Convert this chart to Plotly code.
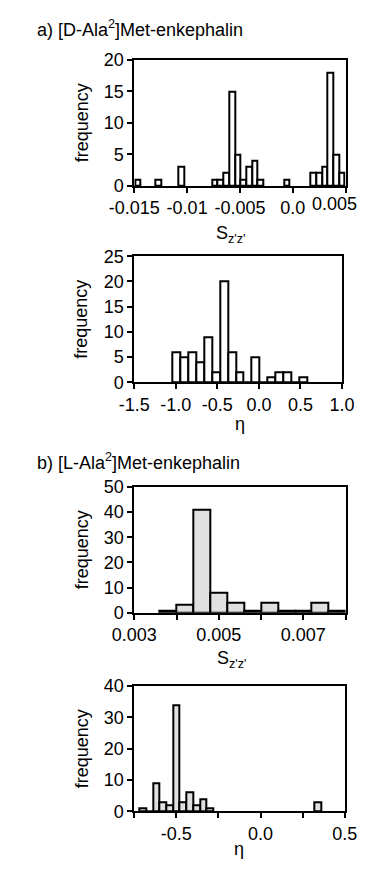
import plotly.graph_objects as go

W, H = 372, 873
FONT = "Liberation Sans, Arial, Helvetica, sans-serif"
FS = 18

# ---- data ----
# a) [D-Ala2]Met-enkephalin, S_z'z'
dala_s_centers = [-0.01466, -0.01276, -0.01057, -0.00737, -0.00683, -0.00629, -0.00575,
                  -0.00521, -0.00467, -0.00413, -0.00359, -0.00305, -0.00057, 0.00195,
                  0.00249, 0.00303, 0.00357, 0.00411, 0.00465]
dala_s_counts = [1, 1, 3, 1, 1, 2, 15, 5, 1, 3, 4, 1, 1, 2, 2, 3, 18, 5, 2]
dala_s_width = 0.00054

# a) eta
dala_eta_centers = [-0.993, -0.898, -0.802, -0.707, -0.611, -0.516, -0.420, -0.325, -0.230,
                    -0.134, -0.039, 0.057, 0.152, 0.248, 0.343, 0.439, 0.534]
dala_eta_counts = [6, 5, 6, 4, 9, 2, 20, 6, 2, 0, 5, 0, 1, 2, 2, 0, 1]
dala_eta_width = 0.0954

# b) [L-Ala2]Met-enkephalin, S_z'z'
lala_s_centers = [0.0038, 0.0042, 0.0046, 0.0050, 0.0054, 0.0058, 0.0062, 0.0066, 0.0070,
                  0.0074, 0.0078]
lala_s_counts = [1, 3, 41, 8, 4, 1, 4, 1, 1, 4, 1]
lala_s_width = 0.0004

# b) eta
lala_eta_centers = [-0.70, -0.66, -0.62, -0.58, -0.54, -0.50, -0.46, -0.42, -0.38, -0.34,
                    -0.30, 0.34]
lala_eta_counts = [1, 0, 9, 3, 2, 34, 3, 6, 2, 4, 1, 3]
lala_eta_width = 0.04

# tick labels (major, labelled) and unlabelled minor tick positions
p1_xticks = [-0.015, -0.01, -0.005, 0.0]
p1_xlabels = ["-0.015", "-0.01", "-0.005", "0.0"]
p1_minor = [0.005]
p1_edge_tick, p1_edge_label = 0.005, "0.005"   # drawn pulled inside the page edge
p2_xticks = [-1.5, -1.0, -0.5, 0.0, 0.5, 1.0]
p2_xlabels = ["-1.5", "-1.0", "-0.5", "0.0", "0.5", "1.0"]
p2_minor = []
p3_xticks = [0.003, 0.005, 0.007]
p3_xlabels = ["0.003", "0.005", "0.007"]
p3_minor = [0.004, 0.006, 0.008]
p4_xticks = [-0.5, 0.0, 0.5]
p4_xlabels = ["-0.5", "0.0", "0.5"]
p4_minor = [-0.75, -0.25, 0.25]

titles = ["a) [D-Ala<sup>2</sup>]Met-enkephalin", "b) [L-Ala<sup>2</sup>]Met-enkephalin"]
ylabel = "frequency"
xlabel_s = "S<sub>z'z'</sub>"
xlabel_eta = "η"

# ---- layout geometry (pixels) ----
panels = [
    dict(l=121, r=357, t=51, b=180, xr=[-0.015, 0.005], yr=[0, 20], dy=5,
         xt=p1_xticks, xl=p1_xlabels, mn=p1_minor),
    dict(l=121, r=353, t=252, b=381, xr=[-1.5, 1.0], yr=[0, 25], dy=5,
         xt=p2_xticks, xl=p2_xlabels, mn=p2_minor),
    dict(l=121, r=357, t=488, b=617, xr=[0.003, 0.008], yr=[0, 50], dy=10,
         xt=p3_xticks, xl=p3_xlabels, mn=p3_minor),
    dict(l=121, r=356, t=692, b=820, xr=[-0.75, 0.5], yr=[0, 40], dy=10,
         xt=p4_xticks, xl=p4_xlabels, mn=p4_minor),
]

series = [
    (dala_s_centers, dala_s_counts, dala_s_width, "white"),
    (dala_eta_centers, dala_eta_counts, dala_eta_width, "white"),
    (lala_s_centers, lala_s_counts, lala_s_width, "#e0e0e0"),
    (lala_eta_centers, lala_eta_counts, lala_eta_width, "#e0e0e0"),
]

fig = go.Figure()
layout = dict(
    width=W, height=H,
    margin=dict(l=0, r=0, t=0, b=0),
    paper_bgcolor="white", plot_bgcolor="white",
    showlegend=False,
    font=dict(family=FONT, size=FS, color="black"),
    bargap=0,
)

for i, (p, s) in enumerate(zip(panels, series), start=1):
    xa = "x" if i == 1 else f"x{i}"
    ya = "y" if i == 1 else f"y{i}"
    fig.add_trace(go.Bar(
        x=s[0], y=s[1], width=s[2], xaxis=xa, yaxis=ya,
        marker=dict(color=s[3], line=dict(color="black", width=2)),
        hoverinfo="x+y",
    ))
    xkey = "xaxis" if i == 1 else f"xaxis{i}"
    ykey = "yaxis" if i == 1 else f"yaxis{i}"
    xaxis = dict(
        domain=[p["l"] / W, p["r"] / W], anchor=ya, range=p["xr"],
        tickmode="array", tickvals=p["xt"], ticktext=p["xl"],
        showline=True, mirror=True, linecolor="black", linewidth=2,
        ticks="outside", ticklen=5, tickwidth=2, tickcolor="black",
        showgrid=False, zeroline=False,
        tickfont=dict(family=FONT, size=FS, color="black"),
    )
    if p["mn"]:
        xaxis["minor"] = dict(tickmode="array", tickvals=p["mn"], ticks="outside",
                              ticklen=5, tickwidth=2, tickcolor="black", showgrid=False)
    layout[xkey] = xaxis
    layout[ykey] = dict(
        domain=[1 - p["b"] / H, 1 - p["t"] / H], anchor=xa, range=p["yr"],
        tickmode="linear", tick0=0, dtick=p["dy"],
        showline=True, mirror=True, linecolor="black", linewidth=2,
        ticks="outside", ticklen=5, tickwidth=2, tickcolor="black",
        showgrid=False, zeroline=False,
        tickfont=dict(family=FONT, size=FS, color="black"),
    )

fig.update_layout(**layout)

ann = []
def add(text, px, py, xanchor="center", angle=0):
    ann.append(dict(text=text, x=px / W, y=1 - py / H, xref="paper", yref="paper",
                    xanchor=xanchor, yanchor="middle", showarrow=False, textangle=angle,
                    font=dict(family=FONT, size=FS, color="black")))

add(titles[0], 10, 19, xanchor="left")
add(titles[1], 10, 462, xanchor="left")
for p in panels:
    add(ylabel, 62, (p["t"] + p["b"]) / 2, angle=-90)
add(xlabel_s, 229, 230)
add(xlabel_eta, 239, 424)
add(xlabel_s, 230, 665)
add(xlabel_eta, 238, 859)
# right-most tick label of panel a (S), pulled left so it stays on the page
ann.append(dict(text=p1_edge_label, x=p1_edge_tick, xref="x", y=1 - 199 / H, yref="paper",
                xanchor="right", yanchor="middle", xshift=13, showarrow=False,
                font=dict(family=FONT, size=FS, color="black")))
fig.update_layout(annotations=ann)

fig.write_html("out.html", config={"displayModeBar": False},
               post_script="document.body.style.margin='0';")
